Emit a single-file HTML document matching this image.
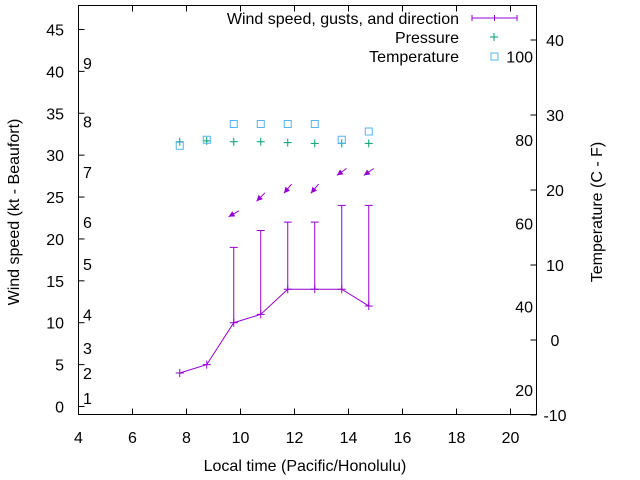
<!DOCTYPE html>
<html><head><meta charset="utf-8"><style>
html,body{margin:0;padding:0;background:#fff}
svg{display:block;font-family:"Liberation Sans",sans-serif}
</style></head><body>
<svg id="chart" width="640" height="480" xmlns="http://www.w3.org/2000/svg"></svg>
<script>
const times=[7.75,8.75,9.75,10.75,11.75,12.75,13.75,14.75];
const wind=[4,5,10,11,14,14,14,12];
const gust=[null,null,19,21,22,22,24,24];
const direction=[null,null,60,45,40,40,55,55];
const pressure=[31.6,31.7,31.6,31.6,31.5,31.4,31.4,31.4];
const tempC=[25.9,26.7,28.8,28.8,28.8,28.8,26.7,27.8];
const xTicks=[4,6,8,10,12,14,16,18,20];
const yTicks=[0,5,10,15,20,25,30,35,40,45];
const y2Ticks=[-10,0,10,20,30,40];
const fTicks=[20,40,60,80,100];
const beaufortKt=[1,4,7,11,17,22,28,34,41];

const NS="http://www.w3.org/2000/svg";
const svg=document.getElementById('chart');
const L=78.5,R=536.5,T=5.5,B=414.5;
const X=v=>L+(v-4)*27;
const Y=v=>406.5-v*8.378;
const Y2=c=>340-c*7.5;
function mk(tag,attrs,parent){const e=document.createElementNS(NS,tag);for(const k in attrs)e.setAttribute(k,attrs[k]);(parent||svg).appendChild(e);return e;}
function txt(s,x,y,anchor,extra){const t=mk('text',Object.assign({x:x,y:y,'font-size':16,fill:'#000','text-anchor':anchor||'middle'},extra||{}));t.textContent=s;return t;}

let e=mk('rect',{x:L,y:T,width:R-L,height:B-T,fill:'none',stroke:'#000','stroke-width':1});



xTicks.forEach(v=>{
  const x=X(v);
  mk('line',{x1:x,y1:B,x2:x,y2:B-6,stroke:'#000'});
  mk('line',{x1:x,y1:T,x2:x,y2:T+6,stroke:'#000'});
  const t=txt(String(v),x,443);
  
  
});
yTicks.forEach(v=>{
  const y=Y(v);
  mk('line',{x1:L,y1:y,x2:L+6,y2:y,stroke:'#000'});
  const t=txt(String(v),64,y+6,'end');
  
  
});
y2Ticks.forEach(v=>{
  const y=Y2(v);
  mk('line',{x1:R,y1:y,x2:R-6,y2:y,stroke:'#000'});
  const t=txt(String(v),555,y+6,'middle');
  
  
});
fTicks.forEach(f=>{
  const t=txt(String(f),533,Y2((f-32)*5/9)+6,'end');
  
  
});
beaufortKt.forEach((k,i)=>{
  const t=txt(String(i+1),83,Y(k)+6,'start');
  
  
});

let a=txt('Wind speed (kt - Beaufort)',0,0,'middle',{transform:'translate(19,212) rotate(-90)'});


a=txt('Temperature (C - F)',0,0,'middle',{transform:'translate(602,212) rotate(-90)'});


a=txt('Local time (Pacific/Honolulu)',305,471);



const P='#9400d3',G='#009e73',C='#56b4e9';
let d='';times.forEach((t,i)=>{d+=(i?'L':'M')+X(t)+' '+Y(wind[i]);});
e=mk('path',{d:d,fill:'none',stroke:P,'stroke-width':1});


times.forEach((t,i)=>{
  const x=X(t),y=Y(wind[i]);
  const g=mk('path',{d:`M${x-4} ${y}H${x+4}M${x} ${y-4}V${y+4}`,stroke:P,'stroke-width':1});
  
  
  if(gust[i]!=null){
    const yg=Y(gust[i]);
    const b=mk('path',{d:`M${x} ${y}V${yg}M${x-4} ${yg}H${x+4}`,stroke:P,'stroke-width':1});
    
    
    const dir=direction[i]*Math.PI/180;
    const cx=x,cy=Y(gust[i]+4),len=6;
    const dx=-Math.sin(dir),dy=Math.cos(dir);
    const hx=cx+dx*len,hy=cy+dy*len,tx=cx-dx*len,ty=cy-dy*len;
    const px=-dy,py=dx;
    const ar=mk('g',{});
    
    
    mk('line',{x1:tx,y1:ty,x2:hx,y2:hy,stroke:P,'stroke-width':1},ar);
    mk('polygon',{points:`${hx},${hy} ${hx-dx*6+px*3},${hy-dy*6+py*3} ${hx-dx*6-px*3},${hy-dy*6-py*3}`,fill:P},ar);
  }
});
times.forEach((t,i)=>{
  const x=X(t),y=Y(pressure[i]);
  const p=mk('path',{d:`M${x-4} ${y}H${x+4}M${x} ${y-4}V${y+4}`,stroke:G,'stroke-width':1});
  
  
});
times.forEach((t,i)=>{
  const x=X(t),y=Y2(tempC[i]);
  const s=mk('rect',{x:x-3.5,y:y-3.5,width:7,height:7,fill:'none',stroke:C,'stroke-width':1});
  
  
});

const lg=mk('g',{});


[['Wind speed, gusts, and direction',24],['Pressure',43],['Temperature',62]].forEach(([s,y])=>{
  const t=txt(s,459,y,'end');lg.appendChild(t);
  
  
});
mk('path',{d:'M472 18H517M472 15V21M494.5 15V21M517 15V21',stroke:P,'stroke-width':1},lg);
mk('path',{d:'M490 37H498M494 33V41',stroke:G,'stroke-width':1},lg);
mk('rect',{x:491,y:53,width:7,height:7,fill:'none',stroke:C},lg);
</script>
</body></html>
